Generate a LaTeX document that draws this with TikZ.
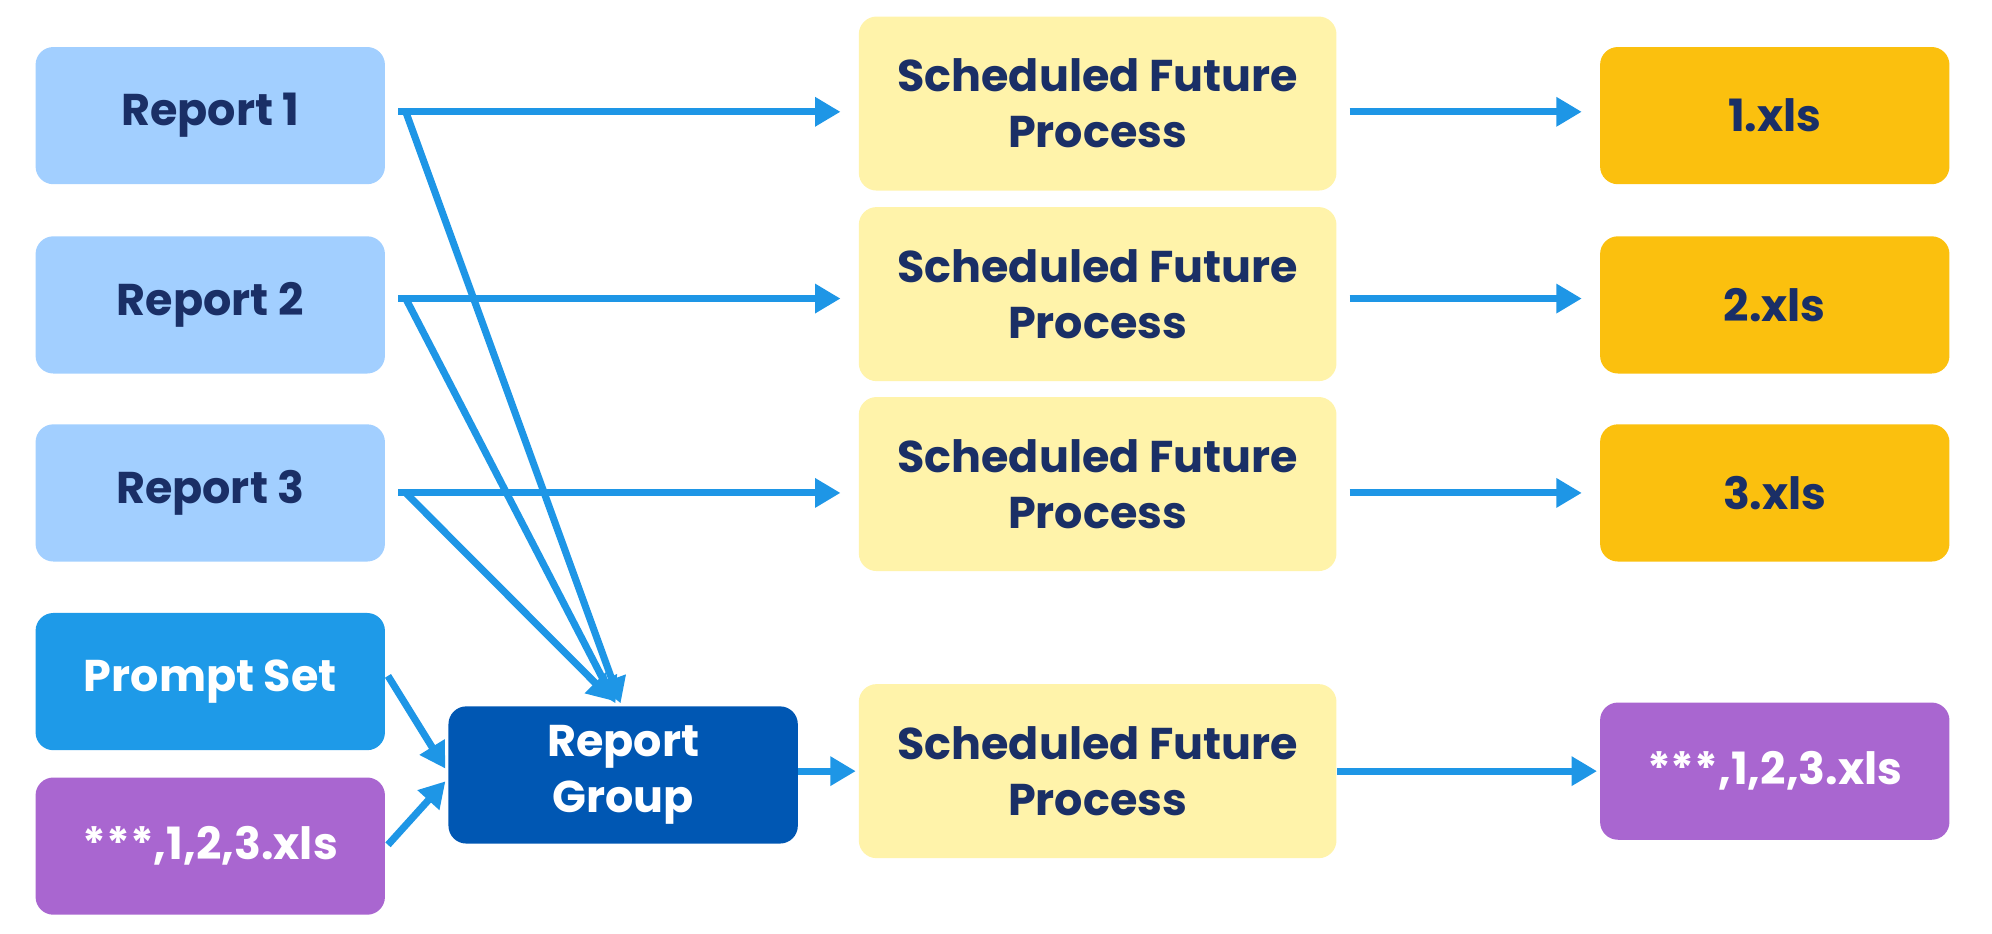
\documentclass[tikz,border=0pt]{standalone}
\usepackage{fontspec}
\setmainfont{Poppins}
\usetikzlibrary{arrows.meta}
\definecolor{lb}{HTML}{A2CFFF}
\definecolor{navy}{HTML}{1A2F66}
\definecolor{yel}{HTML}{FFF3AA}
\definecolor{org}{HTML}{FBC00E}
\definecolor{pur}{HTML}{A966D0}
\definecolor{pb}{HTML}{1E9AE8}
\definecolor{dkb}{HTML}{0057B3}
\definecolor{arr}{HTML}{1E96E6}
\begin{document}
\begin{tikzpicture}[x=0.5pt,y=-0.5pt,
 box/.style={rounded corners=7pt,minimum width=137.5pt,minimum height=54pt,align=center,font=\fontsize{17.5}{22}\selectfont\bfseries,text=navy,inner sep=0pt},
 sch/.style={box,fill=yel,minimum width=188pt,minimum height=68.5pt},
 ar/.style={draw=arr,line width=2.8pt,-{Triangle[length=10pt,width=11pt]}}]
\useasboundingbox (0,0) rectangle (1568,735);
\node[box,fill=lb] (r1) at (165.5,91) {Report 1};
\node[box,fill=lb] (r2) at (165.5,240) {Report 2};
\node[box,fill=lb] (r3) at (165.5,388) {Report 3};
\node[box,fill=pb,text=white] (ps) at (165.5,536.5) {Prompt Set};
\node[box,fill=pur,text=white] (px) at (165.5,666) {***,1,2,3.xls};
\node[box,fill=dkb,text=white] (rg) at (490.5,610) {Report\\Group};
\node[sch] (s1) at (864,81.5) {Scheduled Future\\Process};
\node[sch] (s2) at (864,231.5) {Scheduled Future\\Process};
\node[sch] (s3) at (864,381) {Scheduled Future\\Process};
\node[sch] (s4) at (864,607) {Scheduled Future\\Process};
\node[box,fill=org] (x1) at (1397,91) {1.xls};
\node[box,fill=org] (x2) at (1397,240) {2.xls};
\node[box,fill=org] (x3) at (1397,388) {3.xls};
\node[box,fill=pur,text=white] (x4) at (1397,607) {***,1,2,3.xls};
\foreach \a/\b/\y in {r1/s1/88,r2/s2/235,r3/s3/388}{
 \draw[ar] ([xshift=5pt]\a.east|-0,\y) -- ([xshift=-7pt]\b.west|-0,\y);}
\foreach \a/\b/\y in {s1/x1/88,s2/x2/235,s3/x3/388}{
 \draw[ar] ([xshift=5pt]\a.east|-0,\y) -- ([xshift=-7pt]\b.west|-0,\y);}
\draw[ar] (s4.east|-0,607) -- ([xshift=-1pt]x4.west|-0,607);
\draw[ar] (rg.east|-0,607) -- ([xshift=-1pt]s4.west|-0,607);
\draw[ar] ([xshift=8pt]r1.east|-0,88) -- ([xshift=-1pt,yshift=1pt]rg.north);
\draw[ar] ([xshift=8pt]r2.east|-0,235) -- ([xshift=-3pt,yshift=1pt]rg.north);
\draw[ar] ([xshift=8pt]r3.east|-0,388) -- ([xshift=-4pt,yshift=2pt]rg.north);
\draw[ar] ([xshift=1pt]ps.east|-0,532) -- ([xshift=-1pt]rg.west|-0,605);
\draw[ar] ([xshift=1pt]px.east|-0,665) -- ([xshift=-1pt]rg.west|-0,615);
\end{tikzpicture}
\end{document}
